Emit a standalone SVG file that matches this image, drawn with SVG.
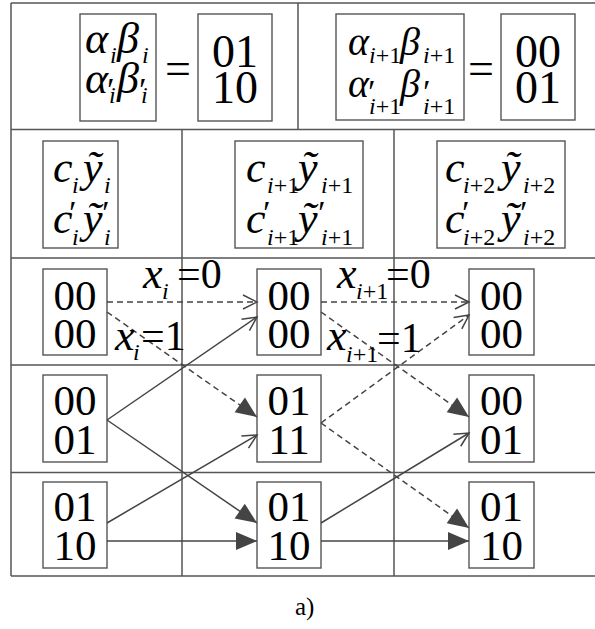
<svg xmlns="http://www.w3.org/2000/svg" width="595" height="629" viewBox="0 0 595 629" font-family="'Liberation Serif', 'DejaVu Serif', serif">
<style>
.grid{stroke:#555;stroke-width:1.5;fill:none}
.box{stroke:#555;stroke-width:1.4;fill:#fff}
.num{font-size:43px;text-anchor:middle}
.big{font-size:46px}
.m{font-style:italic;font-size:44px}
.ms{font-style:italic;font-size:40px}
.sub{font-style:italic;font-size:24px}
.up{font-style:normal}
.pr{font-style:italic;font-size:34px}
.op{font-style:normal;font-size:42px}
.c{stroke:#444;stroke-width:1.5;fill:none}
.d{stroke-dasharray:6 4}
.cap{font-size:25px}
</style>
<defs>
<marker id="open" markerUnits="userSpaceOnUse" viewBox="-16 -10 18 20" refX="0" refY="0" markerWidth="18" markerHeight="20" orient="auto">
<path d="M-14,-7 L0,0 L-14,7" fill="none" stroke="#444" stroke-width="1.5"/>
</marker>
<marker id="fill" markerUnits="userSpaceOnUse" viewBox="-22 -11 24 22" refX="0" refY="0" markerWidth="24" markerHeight="22" orient="auto">
<path d="M-21,-9 L0,0 L-21,9 Z" fill="#444"/>
</marker>
</defs>

<g id="table">
<path class="grid" d="M11,3 H595 M11,129.5 H595 M11,258 H595 M11,365 H595 M11,472.5 H595 M11,576 H595 M11,3 V576 M298,3 V129.5 M182,129.5 V576 M394,129.5 V576"/>
</g>

<g id="header-left">
<rect class="box" x="80" y="14" width="76" height="107"/>
<text class="m" x="85" y="53">α<tspan class="sub" x="110" y="63">i</tspan><tspan x="117" y="53">β</tspan><tspan class="sub" x="142" y="63">i</tspan></text>
<text class="m" x="85" y="93">α<tspan class="pr" x="105" y="101">′</tspan><tspan class="sub" x="109" y="103">i</tspan><tspan x="117" y="93">β</tspan><tspan class="pr" x="137" y="101">′</tspan><tspan class="sub" x="141" y="103">i</tspan></text>
<text class="big" x="165" y="84">=</text>
<rect class="box" x="198" y="14" width="74" height="107"/>
<text class="big" x="235" y="67" text-anchor="middle">01</text>
<text class="big" x="235" y="103" text-anchor="middle">10</text>
</g>

<g id="header-right">
<rect class="box" x="336" y="14" width="128" height="106"/>
<text class="ms" x="348" y="55">α<tspan class="sub" x="369" y="63">i</tspan><tspan class="sub up">+1</tspan><tspan x="400" y="55">β</tspan><tspan class="sub" x="423" y="63">i</tspan><tspan class="sub up">+1</tspan></text>
<text class="ms" x="348" y="97">α<tspan class="pr" x="366" y="103">′</tspan><tspan class="sub" x="369" y="114">i</tspan><tspan class="sub up">+1</tspan><tspan x="400" y="97">β</tspan><tspan class="pr" x="421" y="103">′</tspan><tspan class="sub" x="423" y="114">i</tspan><tspan class="sub up">+1</tspan></text>
<text class="big" x="468" y="84">=</text>
<rect class="box" x="501" y="14" width="74" height="106"/>
<text class="big" x="538" y="67" text-anchor="middle">00</text>
<text class="big" x="538" y="103" text-anchor="middle">01</text>
</g>

<g id="cy-i">
<rect class="box" x="43" y="141" width="75" height="107"/>
<text class="m" x="53" y="182">c<tspan class="sub" x="72" y="193">i</tspan><tspan x="83" y="182">ỹ</tspan><tspan class="sub" x="104" y="193">i</tspan></text>
<text class="m" x="53" y="233">c<tspan class="pr" x="67" y="224">′</tspan><tspan class="sub" x="72" y="245">i</tspan><tspan x="83" y="233">ỹ</tspan><tspan class="pr" x="100" y="224">′</tspan><tspan class="sub" x="104" y="245">i</tspan></text>
</g>

<g id="cy-i1">
<rect class="box" x="235" y="141" width="128" height="107"/>
<text class="m" x="246" y="182">c<tspan class="sub" x="267" y="193">i</tspan><tspan class="sub up">+1</tspan><tspan x="298" y="182">ỹ</tspan><tspan class="sub" x="321" y="193">i</tspan><tspan class="sub up">+1</tspan></text>
<text class="m" x="246" y="233">c<tspan class="pr" x="261" y="224">′</tspan><tspan class="sub" x="267" y="245">i</tspan><tspan class="sub up">+1</tspan><tspan x="298" y="233">ỹ</tspan><tspan class="pr" x="316" y="224">′</tspan><tspan class="sub" x="321" y="245">i</tspan><tspan class="sub up">+1</tspan></text>
</g>

<g id="cy-i2">
<rect class="box" x="437" y="141" width="128" height="107"/>
<text class="m" x="445" y="182">c<tspan class="sub" x="463" y="193">i</tspan><tspan class="sub up">+2</tspan><tspan x="501" y="182">ỹ</tspan><tspan class="sub" x="523" y="193">i</tspan><tspan class="sub up">+2</tspan></text>
<text class="m" x="445" y="233">c<tspan class="pr" x="460" y="224">′</tspan><tspan class="sub" x="463" y="245">i</tspan><tspan class="sub up">+2</tspan><tspan x="501" y="233">ỹ</tspan><tspan class="pr" x="518" y="224">′</tspan><tspan class="sub" x="523" y="245">i</tspan><tspan class="sub up">+2</tspan></text>
</g>

<g id="s1-00">
<rect class="box" x="43" y="269" width="64" height="86"/>
<text class="num" x="75" y="310">00</text><text class="num" x="75" y="348">00</text>
</g>
<g id="s1-01">
<rect class="box" x="43" y="375" width="64" height="87"/>
<text class="num" x="75" y="415">00</text><text class="num" x="75" y="454">01</text>
</g>
<g id="s1-10">
<rect class="box" x="43" y="482" width="64" height="86"/>
<text class="num" x="75" y="521">01</text><text class="num" x="75" y="560">10</text>
</g>
<g id="s2-00">
<rect class="box" x="257" y="269" width="64" height="86"/>
<text class="num" x="289" y="310">00</text><text class="num" x="289" y="348">00</text>
</g>
<g id="s2-11">
<rect class="box" x="257" y="375" width="64" height="87"/>
<text class="num" x="289" y="415">01</text><text class="num" x="289" y="454">11</text>
</g>
<g id="s2-10">
<rect class="box" x="257" y="482" width="64" height="86"/>
<text class="num" x="289" y="521">01</text><text class="num" x="289" y="560">10</text>
</g>
<g id="s3-00">
<rect class="box" x="469" y="269" width="65" height="86"/>
<text class="num" x="501.5" y="310">00</text><text class="num" x="501.5" y="348">00</text>
</g>
<g id="s3-01">
<rect class="box" x="469" y="375" width="65" height="87"/>
<text class="num" x="501.5" y="415">00</text><text class="num" x="501.5" y="454">01</text>
</g>
<g id="s3-10">
<rect class="box" x="469" y="482" width="65" height="86"/>
<text class="num" x="501.5" y="521">01</text><text class="num" x="501.5" y="560">10</text>
</g>

<g id="connectors">
<line class="c d" x1="107" y1="302" x2="257" y2="302" marker-end="url(#open)"/>
<line class="c d" x1="107" y1="312" x2="257" y2="417" marker-end="url(#fill)"/>
<line class="c" x1="107" y1="420" x2="257" y2="317" marker-end="url(#open)"/>
<line class="c" x1="107" y1="420" x2="257" y2="523" marker-end="url(#fill)"/>
<line class="c" x1="107" y1="523" x2="257" y2="435" marker-end="url(#open)"/>
<line class="c" x1="107" y1="541" x2="257" y2="541" marker-end="url(#fill)"/>
<line class="c d" x1="321" y1="302" x2="469" y2="302" marker-end="url(#open)"/>
<line class="c d" x1="321" y1="312" x2="469" y2="417" marker-end="url(#fill)"/>
<line class="c d" x1="321" y1="423" x2="469" y2="315" marker-end="url(#open)"/>
<line class="c d" x1="321" y1="423" x2="469" y2="528" marker-end="url(#fill)"/>
<line class="c" x1="321" y1="523" x2="469" y2="433" marker-end="url(#open)"/>
<line class="c" x1="321" y1="541" x2="469" y2="541" marker-end="url(#fill)"/>
</g>

<g id="labels">
<text class="m" x="143" y="288">x<tspan class="sub" x="162" y="299">i</tspan><tspan class="op" x="177" y="288">=0</tspan></text>
<text class="m" x="115" y="350">x<tspan class="sub" x="133" y="360">i</tspan><tspan class="op" x="141" y="350">=1</tspan></text>
<text class="m" x="337" y="288">x<tspan class="sub" x="356" y="299">i</tspan><tspan class="sub up">+1</tspan><tspan class="op" x="386" y="288">=0</tspan></text>
<text class="m" x="327" y="350">x<tspan class="sub" x="346" y="362">i</tspan><tspan class="sub up">+1</tspan><tspan class="op" x="377" y="352">=1</tspan></text>
</g>

<text class="cap" x="295" y="615">a)</text>
</svg>
